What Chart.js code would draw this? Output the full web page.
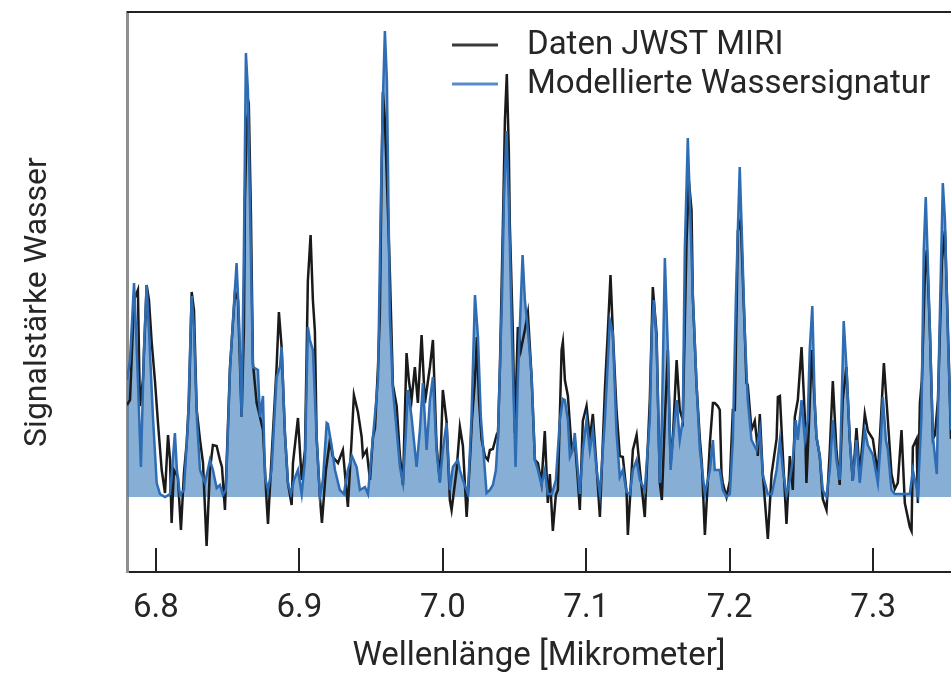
<!DOCTYPE html>
<html>
<head>
<meta charset="utf-8">
<script src="https://cdn.jsdelivr.net/npm/chart.js@4/dist/chart.umd.min.js"></script>
<style>
  html, body { margin: 0; padding: 0; background: #fff; overflow: hidden; }
</style>
</head>
<body>
<canvas id="chart" width="951" height="673"></canvas>
<script>
// wavelength [µm], signal (arbitrary units, 0 = baseline)
const dataPoints = [
  [6.7798, 0.92], [6.7819, 0.97], [6.7847, 1.97], [6.7874, 2.07], [6.7888, 0.91], [6.7909, 1.17],
  [6.7935, 2.12], [6.7951, 1.97], [6.7970, 1.55], [6.7993, 1.16], [6.8014, 0.74], [6.8040, 0.27],
  [6.8063, 0.04], [6.8084, 0.62], [6.8098, 0.37], [6.8109, -0.26], [6.8125, 0.27], [6.8153, 0.20],
  [6.8174, -0.33], [6.8195, 0.24], [6.8214, 0.54], [6.8230, 0.97], [6.8249, 2.05], [6.8265, 1.87],
  [6.8284, 0.87], [6.8307, 0.57], [6.8328, 0.34], [6.8353, -0.49], [6.8376, 0.27], [6.8397, 0.52],
  [6.8423, 0.51], [6.8446, 0.37], [6.8460, 0.30], [6.8481, -0.13], [6.8516, 1.30], [6.8551, 2.05],
  [6.8572, 1.97], [6.8597, 0.80], [6.8613, 1.67], [6.8620, 2.97], [6.8634, 3.77], [6.8648, 3.87],
  [6.8662, 2.83], [6.8676, 1.34], [6.8702, 0.94], [6.8725, 0.80], [6.8746, 0.67], [6.8772, -0.06],
  [6.8781, -0.27], [6.8806, 0.40], [6.8841, 1.30], [6.8857, 1.85], [6.8876, 1.50], [6.8899, 0.64],
  [6.8920, 0.14], [6.8946, -0.08], [6.8955, 0.34], [6.8990, 0.79], [6.9016, 0.17], [6.9039, 0.47],
  [6.9059, 2.16], [6.9078, 2.62], [6.9094, 1.97], [6.9108, 1.66], [6.9120, 0.60], [6.9143, 0.00],
  [6.9157, -0.26], [6.9185, 0.27], [6.9213, 0.57], [6.9234, 0.40], [6.9269, 0.34], [6.9303, 0.47],
  [6.9338, -0.10], [6.9364, 0.57], [6.9380, 1.02], [6.9408, 0.85], [6.9434, 0.60], [6.9443, 0.41],
  [6.9469, 0.47], [6.9492, 0.17], [6.9513, 0.60], [6.9527, 0.69], [6.9548, 1.30], [6.9561, 1.84],
  [6.9573, 3.26], [6.9582, 4.05], [6.9596, 3.77], [6.9617, 2.87], [6.9631, 2.23], [6.9652, 1.12],
  [6.9678, 0.91], [6.9701, 0.41], [6.9722, 0.12], [6.9747, 1.44], [6.9763, 1.17], [6.9782, 0.97],
  [6.9805, 1.30], [6.9826, 0.94], [6.9852, 1.62], [6.9875, 0.94], [6.9910, 1.30], [6.9931, 1.57],
  [6.9956, 0.52], [6.9979, 0.16], [7.0000, 1.07], [7.0026, 0.76], [7.0049, -0.03], [7.0061, -0.13],
  [7.0096, 0.27], [7.0119, 0.70], [7.0140, 0.51], [7.0166, -0.20], [7.0189, 0.37], [7.0203, 0.77],
  [7.0224, 1.17], [7.0238, 1.60], [7.0252, 0.97], [7.0270, 0.58], [7.0293, 0.41], [7.0314, 0.37],
  [7.0328, 0.47], [7.0349, 0.48], [7.0375, 0.62], [7.0384, 0.60], [7.0398, 1.30], [7.0419, 2.73],
  [7.0433, 3.77], [7.0446, 4.23], [7.0460, 3.47], [7.0467, 2.73], [7.0488, 1.66], [7.0502, 0.64],
  [7.0523, 1.70], [7.0544, 1.47], [7.0572, 1.67], [7.0593, 1.84], [7.0619, 1.20], [7.0642, 0.37],
  [7.0663, 0.34], [7.0688, 0.14], [7.0711, 0.66], [7.0732, -0.06], [7.0746, 0.23], [7.0767, -0.34],
  [7.0788, 0.02], [7.0802, 0.07], [7.0828, 1.47], [7.0837, 1.55], [7.0851, 1.17], [7.0872, 1.01],
  [7.0898, 0.48], [7.0920, 0.57], [7.0941, 0.17], [7.0955, -0.13], [7.0976, 0.76], [7.1002, 0.91],
  [7.1025, 0.58], [7.1046, 0.83], [7.1072, 0.30], [7.1095, -0.20], [7.1130, 1.08], [7.1151, 1.67],
  [7.1169, 2.22], [7.1185, 1.66], [7.1211, 0.87], [7.1234, 0.41], [7.1255, 0.40], [7.1281, 0.05],
  [7.1290, -0.38], [7.1325, 0.47], [7.1351, 0.62], [7.1374, 0.27], [7.1408, -0.20], [7.1443, 0.97],
  [7.1464, 2.10], [7.1490, 1.64], [7.1513, 0.14], [7.1527, -0.03], [7.1548, 0.77], [7.1569, 1.47],
  [7.1588, 0.34], [7.1604, 0.60], [7.1630, 1.37], [7.1652, 0.87], [7.1673, 0.77], [7.1699, 2.55],
  [7.1715, 3.17], [7.1734, 2.87], [7.1743, 2.01], [7.1769, 1.12], [7.1792, 0.58], [7.1806, 0.34],
  [7.1827, -0.38], [7.1862, 0.54], [7.1883, 0.94], [7.1896, 0.94], [7.1917, 0.91], [7.1931, 0.87],
  [7.1943, 0.23], [7.1952, 0.14], [7.1978, 0.00], [7.2001, 0.16], [7.2022, 0.87], [7.2036, 0.87],
  [7.2057, 2.66], [7.2077, 2.77], [7.2105, 1.66], [7.2117, 1.14], [7.2126, 1.12], [7.2152, 0.67],
  [7.2175, 0.76], [7.2187, 0.60], [7.2196, 0.41], [7.2210, 0.83], [7.2231, 0.23], [7.2266, -0.42],
  [7.2292, 0.23], [7.2327, 0.58], [7.2336, 1.00], [7.2350, 1.01], [7.2371, 0.41], [7.2396, -0.27],
  [7.2419, 0.41], [7.2440, 0.07], [7.2454, 0.80], [7.2475, 0.97], [7.2501, 1.50], [7.2524, 0.80],
  [7.2535, 0.14], [7.2551, 0.67], [7.2572, 1.47], [7.2593, 0.94], [7.2605, 0.60], [7.2628, 0.41],
  [7.2649, -0.02], [7.2675, -0.13], [7.2698, 0.47], [7.2719, 1.16], [7.2744, 0.48], [7.2767, 0.12],
  [7.2788, 0.97], [7.2814, 1.30], [7.2837, 0.58], [7.2858, 0.16], [7.2884, 0.69], [7.2907, 0.23],
  [7.2942, 0.83], [7.2963, 0.66], [7.2998, 0.58], [7.3033, 0.23], [7.3054, 0.77], [7.3075, 1.34],
  [7.3103, 0.76], [7.3128, 0.23], [7.3151, 0.08], [7.3172, 0.14], [7.3198, 0.67], [7.3221, -0.06],
  [7.3256, -0.30], [7.3268, -0.34], [7.3277, 0.50], [7.3303, 0.58], [7.3312, -0.06], [7.3326, 0.94],
  [7.3340, 1.17], [7.3361, 2.23], [7.3375, 2.47], [7.3396, 1.66], [7.3417, 0.58], [7.3431, 0.62],
  [7.3452, 0.97], [7.3480, 2.37], [7.3501, 2.66], [7.3522, 1.66], [7.3543, 0.58]
];

const modelPoints = [
  [6.7798, 1.17], [6.7819, 1.37], [6.7847, 2.14], [6.7861, 1.67], [6.7874, 1.17], [6.7895, 0.30],
  [6.7916, 1.47], [6.7935, 2.12], [6.7951, 1.67], [6.7979, 0.80], [6.8005, 0.14], [6.8028, 0.03],
  [6.8063, 0.00], [6.8098, 0.03], [6.8112, 0.27], [6.8132, 0.64], [6.8146, 0.27], [6.8167, 0.02],
  [6.8195, 0.07], [6.8223, 0.74], [6.8249, 2.01], [6.8265, 1.67], [6.8286, 0.77], [6.8307, 0.27],
  [6.8342, 0.14], [6.8376, 0.37], [6.8397, 0.27], [6.8423, 0.09], [6.8446, 0.12], [6.8467, 0.02],
  [6.8488, 0.07], [6.8516, 1.27], [6.8537, 1.77], [6.8562, 2.34], [6.8579, 1.77], [6.8597, 0.80],
  [6.8613, 2.47], [6.8627, 4.44], [6.8641, 4.07], [6.8655, 2.97], [6.8676, 1.30], [6.8711, 1.27],
  [6.8725, 0.80], [6.8746, 1.01], [6.8760, 0.20], [6.8781, 0.07], [6.8806, 0.27], [6.8841, 1.20],
  [6.8864, 1.30], [6.8876, 1.50], [6.8899, 0.64], [6.8920, 0.14], [6.8941, 0.03], [6.8962, 0.17],
  [6.8990, 0.27], [6.9016, 0.03], [6.9039, 0.37], [6.9059, 1.70], [6.9073, 1.57], [6.9094, 1.47],
  [6.9120, 0.60], [6.9143, 0.00], [6.9164, 0.17], [6.9190, 0.74], [6.9199, 0.73], [6.9225, 0.51],
  [6.9248, 0.27], [6.9282, 0.07], [6.9310, 0.03], [6.9338, 0.27], [6.9366, 0.41], [6.9399, 0.30],
  [6.9422, 0.07], [6.9457, 0.10], [6.9478, 0.03], [6.9513, 0.60], [6.9548, 1.17], [6.9568, 2.97],
  [6.9582, 3.97], [6.9596, 4.66], [6.9610, 4.17], [6.9631, 1.80], [6.9652, 1.07], [6.9678, 0.67],
  [6.9701, 0.30], [6.9722, 0.14], [6.9743, 0.67], [6.9757, 1.07], [6.9782, 0.80], [6.9817, 0.30],
  [6.9840, 0.67], [6.9861, 1.14], [6.9887, 0.47], [6.9910, 0.97], [6.9931, 1.20], [6.9956, 0.47],
  [6.9979, 0.14], [7.0000, 0.47], [7.0026, 0.74], [7.0049, 0.07], [7.0070, 0.30], [7.0105, 0.37],
  [7.0119, 0.27], [7.0140, 0.17], [7.0175, 0.03], [7.0200, 0.80], [7.0224, 2.02], [7.0245, 1.60],
  [7.0265, 0.80], [7.0286, 0.40], [7.0305, 0.04], [7.0328, 0.07], [7.0349, 0.12], [7.0370, 0.27],
  [7.0384, 0.60], [7.0412, 1.97], [7.0426, 2.97], [7.0444, 3.66], [7.0460, 2.97], [7.0481, 1.67],
  [7.0507, 0.30], [7.0523, 1.17], [7.0544, 1.97], [7.0556, 2.42], [7.0572, 1.97], [7.0593, 1.67],
  [7.0619, 1.20], [7.0642, 0.37], [7.0663, 0.27], [7.0688, 0.12], [7.0711, 0.27], [7.0732, 0.03],
  [7.0760, 0.03], [7.0788, 0.17], [7.0816, 0.77], [7.0837, 0.98], [7.0851, 0.97], [7.0872, 0.77],
  [7.0886, 0.40], [7.0906, 0.47], [7.0920, 0.64], [7.0941, 0.27], [7.0955, 0.03], [7.0976, 0.47],
  [7.1002, 0.77], [7.1025, 0.47], [7.1046, 0.67], [7.1072, 0.27], [7.1095, 0.03], [7.1130, 0.77],
  [7.1151, 1.37], [7.1164, 1.77], [7.1185, 1.64], [7.1211, 0.64], [7.1234, 0.20], [7.1255, 0.27],
  [7.1281, 0.05], [7.1304, 0.03], [7.1325, 0.27], [7.1351, 0.37], [7.1374, 0.17], [7.1408, 0.07],
  [7.1443, 0.77], [7.1457, 1.67], [7.1471, 1.97], [7.1490, 1.57], [7.1513, 0.14], [7.1527, 0.77],
  [7.1548, 2.39], [7.1569, 1.47], [7.1588, 0.27], [7.1604, 0.57], [7.1630, 0.97], [7.1652, 0.57],
  [7.1673, 0.77], [7.1687, 2.47], [7.1708, 3.59], [7.1722, 2.97], [7.1743, 2.01], [7.1769, 1.12],
  [7.1792, 0.47], [7.1827, 0.03], [7.1862, 0.27], [7.1883, 0.57], [7.1896, 0.27], [7.1931, 0.27],
  [7.1952, 0.07], [7.1978, 0.00], [7.2001, 0.03], [7.2022, 0.57], [7.2043, 1.97], [7.2057, 2.67],
  [7.2070, 3.30], [7.2084, 2.67], [7.2105, 1.66], [7.2126, 0.97], [7.2152, 0.57], [7.2187, 0.47],
  [7.2210, 0.67], [7.2231, 0.22], [7.2266, 0.03], [7.2294, 0.03], [7.2327, 0.27], [7.2350, 0.57],
  [7.2371, 0.27], [7.2396, 0.02], [7.2419, 0.17], [7.2440, 0.37], [7.2461, 0.77], [7.2475, 0.57],
  [7.2501, 0.97], [7.2524, 0.57], [7.2544, 0.77], [7.2558, 1.47], [7.2576, 1.91], [7.2593, 0.94],
  [7.2605, 0.60], [7.2628, 0.41], [7.2649, 0.07], [7.2675, 0.00], [7.2698, 0.27], [7.2719, 0.77],
  [7.2744, 0.37], [7.2767, 0.17], [7.2781, 0.97], [7.2795, 1.76], [7.2814, 1.30], [7.2837, 0.58],
  [7.2858, 0.16], [7.2884, 0.57], [7.2907, 0.14], [7.2942, 0.67], [7.2963, 0.52], [7.2998, 0.42],
  [7.3033, 0.14], [7.3054, 0.57], [7.3068, 1.00], [7.3089, 0.57], [7.3103, 0.47], [7.3128, 0.07],
  [7.3151, 0.03], [7.3186, 0.03], [7.3221, 0.03], [7.3256, 0.03], [7.3277, 0.27], [7.3312, 0.03],
  [7.3337, 0.80], [7.3353, 2.47], [7.3367, 3.00], [7.3381, 2.37], [7.3396, 1.66], [7.3417, 0.60],
  [7.3444, 0.23], [7.3460, 1.47], [7.3486, 3.14], [7.3501, 2.77], [7.3522, 1.57], [7.3543, 0.67]
];

const seriesNames = ['Daten JWST MIRI', 'Modellierte Wassersignatur'];
const xTicks = [6.8, 6.9, 7.0, 7.1, 7.2, 7.3];
const xTitle = 'Wellenlänge [Mikrometer]';
const yTitle = 'Signalstärke Wasser';

const FONT = 'Roboto';
const TEXT = '#262626';

// top frame line, rotated y title and the legend inside the plot
const framePlugin = {
  id: 'frame',
  afterDraw(chart) {
    const { ctx, chartArea } = chart;
    ctx.save();
    ctx.strokeStyle = '#222';
    ctx.lineWidth = 2;
    ctx.beginPath();
    ctx.moveTo(chartArea.left, chartArea.top);
    ctx.lineTo(chartArea.right, chartArea.top);
    ctx.stroke();

    ctx.fillStyle = TEXT;
    ctx.font = '32px ' + FONT;
    ctx.textAlign = 'center';
    ctx.textBaseline = 'middle';
    ctx.translate(38, 302);
    ctx.rotate(-Math.PI / 2);
    ctx.fillText(yTitle, 0, 0);
    ctx.restore();

    ctx.save();
    ctx.font = '33px ' + FONT;
    ctx.textBaseline = 'middle';
    ctx.textAlign = 'left';
    chart.data.datasets.forEach((ds, i) => {
      const y = 45 + i * 39;
      ctx.strokeStyle = ds.legendColor;
      ctx.lineWidth = 3;
      ctx.beginPath();
      ctx.moveTo(452, y);
      ctx.lineTo(498, y);
      ctx.stroke();
      ctx.fillStyle = TEXT;
      ctx.fillText(ds.label, 527, y + 1);
    });
    ctx.restore();
  }
};

new Chart(document.getElementById('chart'), {
  type: 'line',
  data: {
    datasets: [
      {
        label: seriesNames[0],
        data: dataPoints.map(([x, y]) => ({ x, y })),
        borderColor: '#1a1a1a',
        legendColor: '#3a3a3a',
        borderWidth: 2.5,
        fill: false,
        order: 1
      },
      {
        label: seriesNames[1],
        data: modelPoints.map(([x, y]) => ({ x, y })),
        borderColor: '#2e6cb4',
        legendColor: '#5a8ccb',
        backgroundColor: 'rgba(70, 130, 190, 0.65)',
        borderWidth: 2.5,
        fill: 'origin',
        order: 0
      }
    ]
  },
  options: {
    responsive: false,
    animation: false,
    layout: { padding: { top: 12, left: 0, right: 0, bottom: 0 } },
    elements: { point: { radius: 0 }, line: { tension: 0 } },
    plugins: {
      legend: { display: false },
      tooltip: { enabled: false },
      filler: { drawTime: 'beforeDatasetsDraw' }
    },
    scales: {
      x: {
        type: 'linear',
        min: 6.7798,
        max: 7.3543,
        afterFit: (s) => { s.height = 101; },
        afterBuildTicks: (s) => { s.ticks = xTicks.map(v => ({ value: v })); },
        ticks: {
          callback: (v) => v.toFixed(1),
          font: { family: FONT, size: 33 },
          color: TEXT,
          padding: 41,
          maxRotation: 0
        },
        grid: { drawOnChartArea: false, drawTicks: true, tickLength: -24, color: '#222', lineWidth: 2 },
        border: { color: '#222', width: 2 },
        title: {
          display: true,
          text: xTitle,
          font: { family: FONT, size: 33, lineHeight: 1 },
          color: TEXT,
          padding: { top: 0, bottom: 0 }
        }
      },
      y: {
        min: -0.75,
        max: 4.85,
        afterFit: (s) => { s.width = 127; },
        ticks: { display: false },
        grid: { display: false },
        border: { color: '#8f8f8f', width: 3 }
      }
    }
  },
  plugins: [framePlugin]
});
</script>
</body>
</html>
